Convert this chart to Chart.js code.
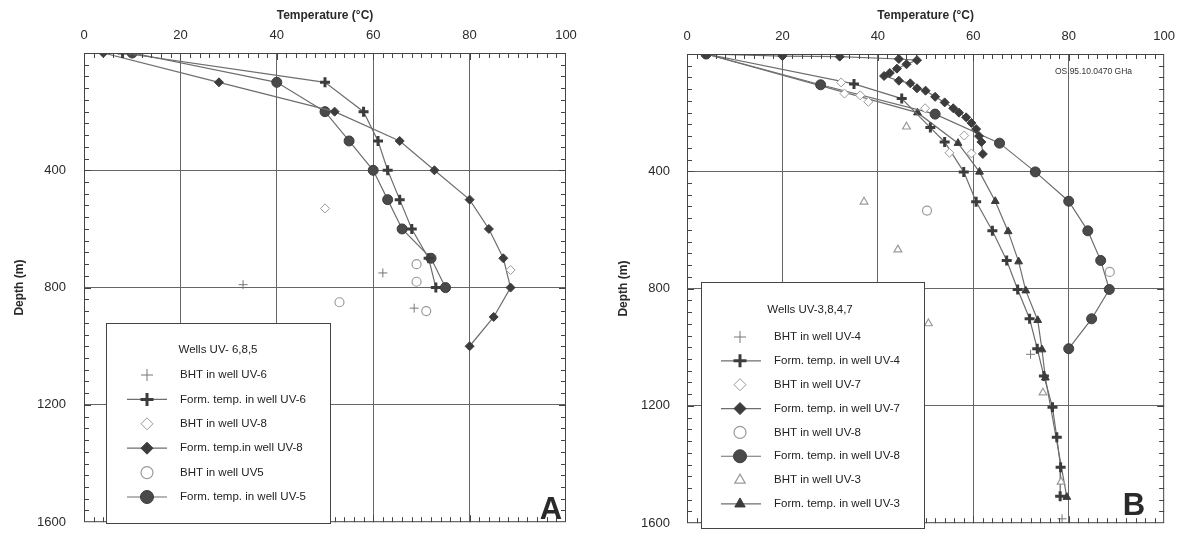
<!DOCTYPE html>
<html><head><meta charset="utf-8">
<script src="https://cdn.jsdelivr.net/npm/chart.js@4.4.1/dist/chart.umd.min.js"></script>
<style>
body{margin:0;background:#fff;width:1185px;height:548px;overflow:hidden;position:relative}
#wa{position:absolute;left:0;top:0;width:590px;height:548px}
#wb{position:absolute;left:600px;top:0;width:585px;height:548px}
</style></head><body>
<div id="wa"><canvas id="ca" width="590" height="548"></canvas></div>
<div id="wb"><canvas id="cb" width="585" height="548"></canvas></div>
<script>
// ---------- shared axis ----------
const xTickValues=[0,20,40,60,80,100];
const yTickValues=[0,400,800,1200,1600];
const xTitle='Temperature (°C)';
const yTitle='Depth (m)';

// ---------- Panel A (wells UV-6,8,5) ----------
const aBhtUV6T=[33,62,68.5];            const aBhtUV6D=[790,750,870];
const aFormUV6T=[8,50,58,61,63,65.5,68,71.5,73];
const aFormUV6D=[0,100,200,300,400,500,600,700,800];
const aBhtUV8T=[50,88.5];               const aBhtUV8D=[530,740];
const aFormUV8T=[4,28,52,65.5,72.7,80,84,87,88.5,85,80];
const aFormUV8D=[0,100,200,300,400,500,600,700,800,900,1000];
const aBhtUV5T=[69,69,53,71];           const aBhtUV5D=[720,780,850,880];
const aFormUV5T=[10,40,50,55,60,63,66,72,75];
const aFormUV5D=[0,100,200,300,400,500,600,700,800];
const aLegendTitle='Wells UV- 6,8,5';
const aLabels=['BHT in well UV-6','Form. temp. in well UV-6','BHT in well UV-8','Form. temp.in well UV-8','BHT in well UV5','Form. temp. in well UV-5'];

// ---------- Panel B (wells UV-3,8,4,7) ----------
const bBhtUV4T=[72,78.6];               const bBhtUV4D=[1024,1585];
const bFormUV4T=[4,35,45,51,54,58,60.6,64,67,69.3,71.8,73.4,74.8,76.6,77.5,78.3,78.2];
const bFormUV4D=[0,102,152,251,300,402,504,603,704,803,903,1005,1098,1205,1307,1409,1508];
const bBhtUV7T=[32.3,33,36.3,38,49.9,58.1,59.6,55];
const bBhtUV7D=[97,135,141,163,185,278,339,337];
const bFormUV7T=[4,20,32,44.4,48.2,46,44,42.5,41.3,44.4,46.8,48.2,50,52,54,55.8,57,58.5,59.6,60.6,61.2,61.7,62];
const bFormUV7D=[0,7,9,17,21,35,50,65,75,91,100,117,125,146,165,185,200,216,235,256,280,300,341];
const bBhtUV8T=[50.3,88.6];             const bBhtUV8D=[534,743];
const bFormUV8T=[4,28,52,65.5,73,80,84,86.7,88.5,84.8,80];
const bFormUV8D=[0,105,205,304,402,502,603,704,803,903,1005];
const bBhtUV3T=[46,37.1,44.2,50.6,74.6,78.4];
const bBhtUV3D=[248,504,667,919,1155,1459];
const bFormUV3T=[4,48.3,56.8,61.3,64.6,67.3,69.5,71,73.5,74.4,75.1,79.6];
const bFormUV3D=[0,200,304,402,502,605,708,807,908,1008,1104,1511];
const bLegendTitle='Wells UV-3,8,4,7';
const bLabels=['BHT in well UV-4','Form. temp. in well UV-4','BHT in well UV-7','Form. temp. in well UV-7','BHT in well UV-8','Form. temp. in well UV-8','BHT in well UV-3','Form. temp. in well UV-3'];
const stampText='OS.95.10.0470 GHa';

// ---------- styles ----------
const FONT='"Liberation Sans", Arial, sans-serif';
const LINE='#6e6e6e', DARK='#3c3c3c', OPEN='#9a9a9a';
const ST={
  bhtPlus:{pointStyle:'cross',pointRadius:4.5,borderColor:'#777',backgroundColor:'#777',pointBorderWidth:1,showLine:false},
  formPlus:{pointStyle:'cross',pointRadius:5,borderColor:DARK,backgroundColor:DARK,pointBorderWidth:3,showLine:true},
  bhtDiamond:{pointStyle:'rectRot',pointRadius:4.5,borderColor:OPEN,backgroundColor:'#fff',pointBorderWidth:1,showLine:false},
  formDiamond:{pointStyle:'rectRot',pointRadius:4.5,borderColor:DARK,backgroundColor:DARK,pointBorderWidth:1,showLine:true},
  bhtCircle:{pointStyle:'circle',pointRadius:4.5,borderColor:OPEN,backgroundColor:'#fff',pointBorderWidth:1.2,showLine:false},
  formCircle:{pointStyle:'circle',pointRadius:5,borderColor:DARK,backgroundColor:'#4a4a4a',pointBorderWidth:1,showLine:true},
  bhtTri:{pointStyle:'triangle',pointRadius:4.5,borderColor:OPEN,backgroundColor:'#fff',pointBorderWidth:1.2,showLine:false},
  formTri:{pointStyle:'triangle',pointRadius:4.5,borderColor:DARK,backgroundColor:DARK,pointBorderWidth:1,showLine:true}
};
function pts(T,D){return T.map((t,i)=>({x:t,y:D[i]}));}
function ds(label,T,D,st){
  return Object.assign({label,data:pts(T,D),borderWidth:1.2,
    pointBackgroundColor:st.backgroundColor,pointBorderColor:st.borderColor,
    pointHoverRadius:st.pointRadius,tension:0,order:st.showLine?1:0,
    markFill:st.backgroundColor,markStroke:st.borderColor},st,
    {borderColor:st.showLine?LINE:st.borderColor});
}

// frame + inward minor ticks
const framePlugin={id:'frame',afterDraw(ch){
  const c=ch.ctx,a=ch.chartArea,xs=ch.scales.x,ys=ch.scales.y;
  c.save();c.strokeStyle='#444';c.lineWidth=1;
  c.strokeRect(a.left+0.5,a.top+0.5,a.right-a.left-1,a.bottom-a.top-1);
  c.beginPath();
  for(let v=2;v<100;v+=2){const p=Math.round(xs.getPixelForValue(v))+0.5;const L=(v%20===0)?7:5;
    c.moveTo(p,a.top);c.lineTo(p,a.top+L);c.moveTo(p,a.bottom);c.lineTo(p,a.bottom-L);}
  for(let v=40;v<1600;v+=40){const p=Math.round(ys.getPixelForValue(v))+0.5;const L=(v%400===0)?7:5;
    c.moveTo(a.left,p);c.lineTo(a.left+L,p);c.moveTo(a.right,p);c.lineTo(a.right-L,p);}
  c.stroke();c.restore();
}};
// legend box + annotations
function legendPlugin(cfg){return {id:'legbox',afterDraw(ch){
  const c=ch.ctx;c.save();
  c.fillStyle='#fff';c.fillRect(cfg.x,cfg.y,cfg.w,cfg.h);
  c.strokeStyle='#444';c.lineWidth=1;c.strokeRect(cfg.x+0.5,cfg.y+0.5,cfg.w,cfg.h);
  c.fillStyle='#222';c.font='11.5px '+FONT;c.textBaseline='middle';c.textAlign='center';
  c.fillText(cfg.title,cfg.titleX,cfg.titleY);
  c.textAlign='left';
  ch.data.datasets.forEach((d,i)=>{
    const y=cfg.firstY+i*cfg.step;
    if(d.showLine){c.strokeStyle=LINE;c.lineWidth=1.2;c.beginPath();c.moveTo(cfg.lineX0,y);c.lineTo(cfg.lineX1,y);c.stroke();}
    c.fillStyle=d.markFill;c.strokeStyle=d.markStroke;c.lineWidth=d.pointBorderWidth;
    Chart.helpers.drawPoint(c,{pointStyle:d.pointStyle,radius:d.pointRadius+1.5,borderWidth:d.pointBorderWidth,rotation:0},cfg.markX,y);
    c.fillStyle='#222';c.fillText(cfg.labels[i],cfg.textX,y);
  });
  c.font='bold 31px '+FONT;c.fillStyle='#2a2a2a';c.textAlign='center';c.textBaseline='alphabetic';
  c.fillText(cfg.letter,cfg.letterX,cfg.letterY);
  if(cfg.stamp){c.font='8.5px '+FONT;c.fillStyle='#333';c.textAlign='left';c.textBaseline='middle';c.fillText(cfg.stamp,cfg.stampX,cfg.stampY);}
  c.restore();
}};}

function makeChart(id,datasets,g,leg){
  return new Chart(document.getElementById(id),{
    type:'scatter',data:{datasets},
    options:{responsive:false,animation:false,devicePixelRatio:1,
      layout:{padding:{left:0,top:0,right:g.right,bottom:g.bottom}},
      plugins:{legend:{display:false},tooltip:{enabled:false}},
      scales:{
        x:{type:'linear',position:'top',min:0,max:100,
          afterBuildTicks:s=>{s.ticks=xTickValues.map(v=>({value:v}));},
          afterFit:s=>{s.height=g.top;},
          ticks:{font:{family:FONT,size:13},color:'#2a2a2a',padding:10,maxRotation:0},
          grid:{drawTicks:false,color:ctx=>(ctx.tick&&ctx.tick.value>0&&ctx.tick.value<100)?'#666':'rgba(0,0,0,0)',lineWidth:1},
          border:{display:false},
          title:{display:true,text:xTitle,font:{family:FONT,size:12,weight:'bold'},color:'#2a2a2a',padding:{top:g.xTitlePad,bottom:0}}},
        y:{type:'linear',reverse:true,min:0,max:1600,
          afterBuildTicks:s=>{s.ticks=yTickValues.map(v=>({value:v}));},
          afterFit:s=>{s.width=g.left;},
          ticks:{font:{family:FONT,size:13},color:'#2a2a2a',padding:g.yPad,callback:v=>v===0?'':String(v)},
          grid:{drawTicks:false,color:ctx=>(ctx.tick&&ctx.tick.value>0&&ctx.tick.value<1600)?'#666':'rgba(0,0,0,0)',lineWidth:1},
          border:{display:false},
          title:{display:true,text:yTitle,font:{family:FONT,size:12,weight:'bold'},color:'#2a2a2a',padding:{top:g.yTitlePad,bottom:0}}}
      }},
    plugins:[framePlugin,legendPlugin(leg)]
  });
}

const dsA=[
  ds(aLabels[0],aBhtUV6T,aBhtUV6D,ST.bhtPlus),
  ds(aLabels[1],aFormUV6T,aFormUV6D,ST.formPlus),
  ds(aLabels[2],aBhtUV8T,aBhtUV8D,ST.bhtDiamond),
  ds(aLabels[3],aFormUV8T,aFormUV8D,ST.formDiamond),
  ds(aLabels[4],aBhtUV5T,aBhtUV5D,ST.bhtCircle),
  ds(aLabels[5],aFormUV5T,aFormUV5D,ST.formCircle)];
const dsB=[
  ds(bLabels[0],bBhtUV4T,bBhtUV4D,ST.bhtPlus),
  ds(bLabels[1],bFormUV4T,bFormUV4D,ST.formPlus),
  ds(bLabels[2],bBhtUV7T,bBhtUV7D,ST.bhtDiamond),
  ds(bLabels[3],bFormUV7T,bFormUV7D,ST.formDiamond),
  ds(bLabels[4],bBhtUV8T,bBhtUV8D,ST.bhtCircle),
  ds(bLabels[5],bFormUV8T,bFormUV8D,ST.formCircle),
  ds(bLabels[6],bBhtUV3T,bBhtUV3D,ST.bhtTri),
  ds(bLabels[7],bFormUV3T,bFormUV3D,ST.formTri)];

makeChart('ca',dsA,{left:84,top:53,right:24,bottom:10,yPad:18,xTitlePad:8,yTitlePad:12},
  {x:106,y:323,w:224,h:200,title:aLegendTitle,titleX:218,titleY:350,labels:aLabels,
   firstY:375,step:24.4,lineX0:127,lineX1:167,markX:147,textX:180,letter:'A',letterX:551,letterY:519});
makeChart('cb',dsB,{left:87,top:54,right:17,bottom:10,yPad:17,xTitlePad:8,yTitlePad:16},
  {x:101,y:282,w:223,h:246,title:bLegendTitle,titleX:210,titleY:310,labels:bLabels,
   firstY:337,step:23.85,lineX0:121,lineX1:161,markX:140,textX:174,letter:'B',letterX:534,letterY:515,
   stamp:stampText,stampX:455,stampY:72});
</script></body></html>
